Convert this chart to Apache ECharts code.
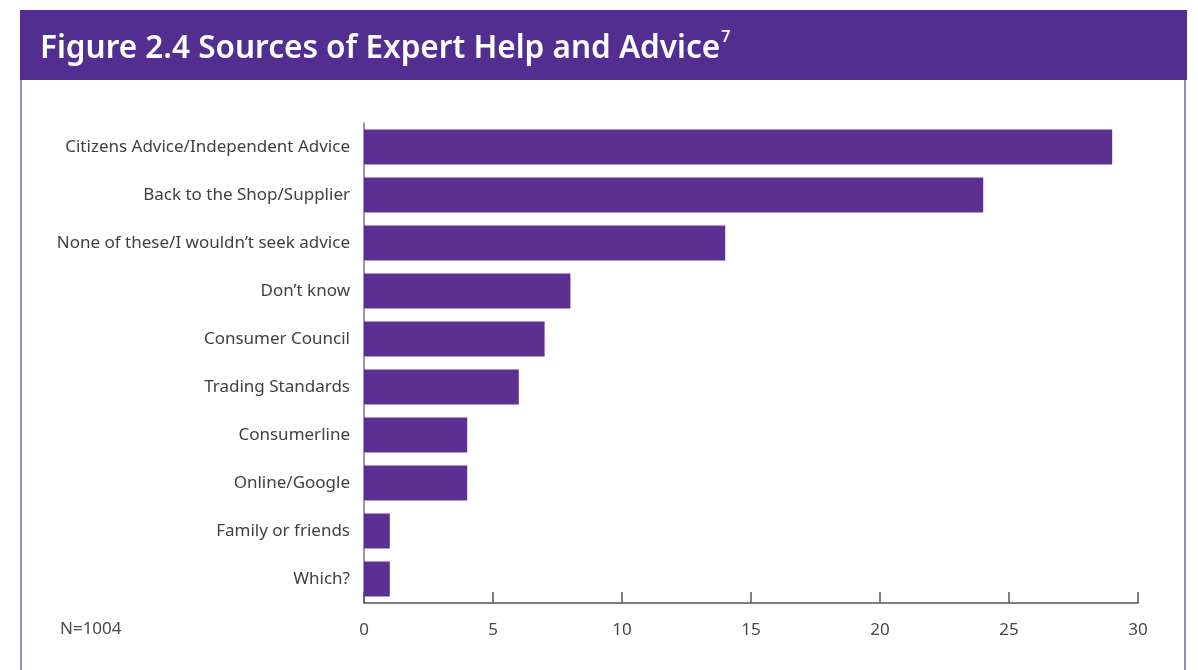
<!DOCTYPE html>
<html>
<head>
<meta charset="utf-8">
<title>Figure 2.4 Sources of Expert Help and Advice</title>
<script src="https://cdn.jsdelivr.net/npm/echarts@6/dist/echarts.min.js"></script>
<style>
  html, body { margin: 0; padding: 0; background: #fff; }
  #chart { width: 1198px; height: 670px; }
</style>
</head>
<body>
<div id="chart"></div>
<script>
// Sources people would turn to for expert help and advice (%)
const categories = [
  'Citizens Advice/Independent Advice',
  'Back to the Shop/Supplier',
  'None of these/I wouldn\u2019t seek advice',
  'Don\u2019t know',
  'Consumer Council',
  'Trading Standards',
  'Consumerline',
  'Online/Google',
  'Family or friends',
  'Which?'
];
const shares = [29, 24, 14, 8, 7, 6, 4, 4, 1, 1];
const xTicks = { min: 0, max: 30, step: 5 };
const sampleNote = 'N=1004';

const PURPLE_BANNER = '#512e8f';
const PURPLE_BAR = '#5c2f91';
const PURPLE_EDGE = '#9a85c6';
const FONT = '"Noto Sans", sans-serif';

const chart = echarts.init(document.getElementById('chart'), null, { renderer: 'canvas' });

chart.setOption({
  animation: false,
  textStyle: { fontFamily: FONT },
  grid: { left: 364, right: 60, top: 123, bottom: 67, containLabel: false },
  graphic: [
    { type: 'rect', left: 20, top: 10, shape: { width: 1167, height: 70 }, style: { fill: PURPLE_BANNER }, z: 0 },
    { type: 'line', shape: { x1: 21, y1: 80, x2: 21, y2: 670 }, style: { stroke: PURPLE_EDGE, lineWidth: 2 } },
    { type: 'line', shape: { x1: 1185, y1: 80, x2: 1185, y2: 670 }, style: { stroke: PURPLE_EDGE, lineWidth: 2 } },
    {
      type: 'text', left: 40, top: 29, z: 10,
      style: {
        text: '{t|Figure 2.4 Sources of Expert Help and Advice}{s|7}',
        rich: {
          t: { fontFamily: FONT, fontSize: 31.5, fontWeight: 600, fill: '#ffffff', lineHeight: 40 },
          s: { fontFamily: FONT, fontSize: 16, fontWeight: 600, fill: '#ffffff', verticalAlign: 'top', lineHeight: 40, padding: [0, 0, 16, 1] }
        }
      }
    },
    {
      type: 'text', left: 60, top: 621,
      style: { text: sampleNote, fontFamily: FONT, fontSize: 17, fill: '#484848' }
    }
  ],
  xAxis: {
    type: 'value',
    min: xTicks.min,
    max: xTicks.max,
    interval: xTicks.step,
    axisLine: { show: true, lineStyle: { color: '#555', width: 1.5 } },
    axisTick: { show: true, inside: true, length: 11, lineStyle: { color: '#555', width: 1.5 } },
    splitLine: { show: false },
    axisLabel: { fontFamily: FONT, fontSize: 17, color: '#484848', margin: 19 }
  },
  yAxis: {
    type: 'category',
    data: categories,
    inverse: true,
    axisLine: { show: true, lineStyle: { color: '#777', width: 1.5 } },
    axisTick: { show: false },
    axisLabel: { fontFamily: FONT, fontSize: 17, color: '#404040', margin: 14 }
  },
  series: [{
    type: 'bar',
    data: shares,
    barWidth: 35,
    itemStyle: { color: PURPLE_BAR }
  }]
});
</script>
</body>
</html>
